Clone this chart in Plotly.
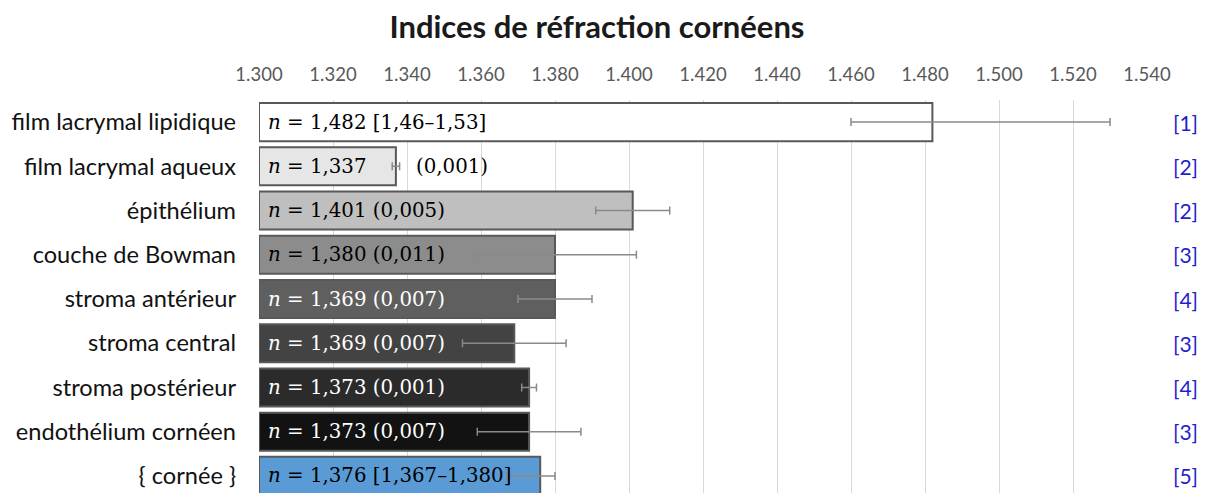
import plotly.graph_objects as go

categories = ["film lacrymal lipidique", "film lacrymal aqueux", "épithélium",
              "couche de Bowman", "stroma antérieur", "stroma central",
              "stroma postérieur", "endothélium cornéen", "{ cornée }"]
bar_values = [1.482, 1.337, 1.401, 1.380, 1.380, 1.369, 1.373, 1.373, 1.376]
err_plus = [0.048, 0.001, 0.010, 0.022, 0.010, 0.014, 0.002, 0.014, 0.004]
err_minus = [0.022, 0.001, 0.010, 0.022, 0.010, 0.014, 0.002, 0.014, 0.009]
inner_labels = ["<i>n</i> = 1,482 [1,46–1,53]", "<i>n</i> = 1,337", "<i>n</i> = 1,401 (0,005)",
                "<i>n</i> = 1,380 (0,011)", "<i>n</i> = 1,369 (0,007)", "<i>n</i> = 1,369 (0,007)",
                "<i>n</i> = 1,373 (0,001)", "<i>n</i> = 1,373 (0,007)", "<i>n</i> = 1,376 [1,367–1,380]"]
outer_labels = ["", "(0,001)", "", "", "", "", "", "", ""]
references = ["[1]", "[2]", "[2]", "[3]", "[4]", "[3]", "[4]", "[3]", "[5]"]
bar_colors = ["#ffffff", "#e6e6e6", "#bfbfbf", "#8c8c8c", "#5f5f5f",
              "#434343", "#2b2b2b", "#121212", "#5b9bd5"]
label_colors = ["#000000", "#000000", "#000000", "#000000", "#ffffff",
                "#ffffff", "#ffffff", "#ffffff", "#000000"]
tick_vals = [1.300, 1.320, 1.340, 1.360, 1.380, 1.400, 1.420, 1.440,
             1.460, 1.480, 1.500, 1.520, 1.540]
x_base = 1.300

fig = go.Figure()
fig.add_trace(go.Bar(
    y=categories, x=[v - x_base for v in bar_values], base=x_base,
    orientation="h",
    marker=dict(color=bar_colors, line=dict(color="#595959", width=2)),
    error_x=dict(type="data", symmetric=False, array=err_plus, arrayminus=err_minus,
                 color="#8a8a8a", thickness=1.5, width=4),
    hoverinfo="skip",
))

annotations = []
for cat, txt, col in zip(categories, inner_labels, label_colors):
    annotations.append(dict(x=x_base, y=cat, xref="x", yref="y", text=txt,
                            showarrow=False, xanchor="left", yanchor="middle", xshift=7,
                            font=dict(family="DejaVu Serif", size=19.8, color=col)))
for cat, txt, v, ep in zip(categories, outer_labels, bar_values, err_plus):
    if txt:
        annotations.append(dict(x=v + ep, y=cat, xref="x", yref="y", text=txt,
                                showarrow=False, xanchor="left", yanchor="middle", xshift=14,
                                font=dict(family="DejaVu Serif", size=19.8, color="#000000")))
for cat, ref in zip(categories, references):
    annotations.append(dict(x=1.043, y=cat, xref="paper", yref="y", text=ref,
                            showarrow=False, xanchor="center", yanchor="middle",
                            font=dict(family="Lato", size=21, color="#1f1fcc")))

fig.update_layout(
    width=1206, height=493,
    margin=dict(l=259, r=59, t=100, b=0),
    paper_bgcolor="white", plot_bgcolor="white",
    bargap=0.14,
    showlegend=False,
    title=dict(text="<b>Indices de réfraction cornéens</b>", x=0.495, xanchor="center",
               y=0.945, yanchor="middle",
               font=dict(family="Lato", size=31, color="#1a1a1a")),
    xaxis=dict(side="top", range=[1.300, 1.540], tickvals=tick_vals,
               tickformat=".3f", showgrid=True, gridcolor="#d9d9d9", gridwidth=1,
               zeroline=False, showline=False, ticks="", ticklabelstandoff=14,
               tickfont=dict(family="Lato", size=18.5, color="#595959")),
    yaxis=dict(categoryorder="array", categoryarray=categories,
               range=[8.387, -0.5], showgrid=False, zeroline=False, showline=False,
               ticks="", ticklabelstandoff=22,
               tickfont=dict(family="Lato", size=23.6, color="#111111")),
    annotations=annotations,
)

fig.write_html("out.html", config={"displayModeBar": False},
               post_script="document.body.style.margin='0';document.body.style.overflow='hidden';")
